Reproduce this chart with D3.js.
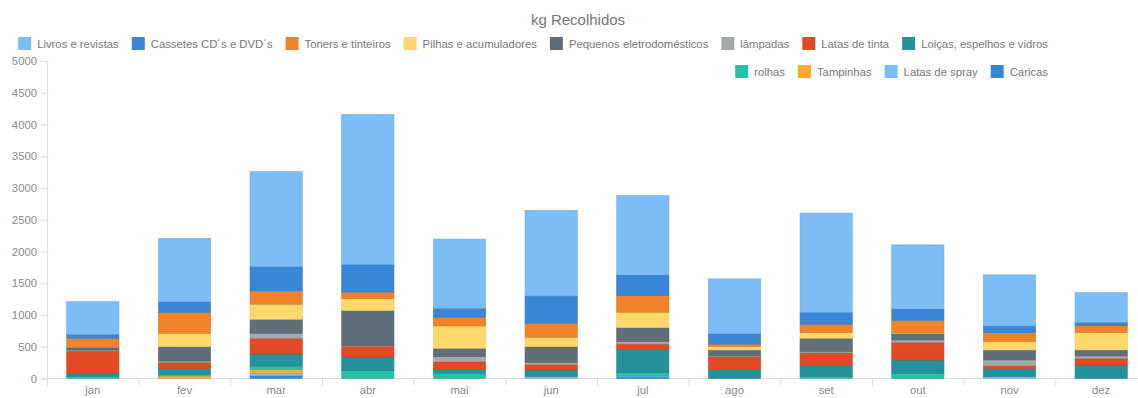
<!DOCTYPE html>
<html>
<head>
<meta charset="utf-8">
<script src="https://cdn.jsdelivr.net/npm/d3@7"></script>
<style>
  body { margin: 0; background: #fff; }
  svg { display: block; font-family: "Liberation Sans", Arial, sans-serif; }
  .axis path, .axis line { stroke: #dcdcdc; }
  .axis text { fill: #8a8a8a; font-size: 11.3px; }
  .legend text { fill: #777; font-size: 11.3px; }
</style>
</head>
<body>
<svg id="chart" width="1138" height="398"></svg>
<script>
// months (categories)
const months = ["jan", "fev", "mar", "abr", "mai", "jun", "jul", "ago", "set", "out", "nov", "dez"];

// kg per month, one array per material
const livros      = [514, 1000, 1494, 2360, 1088, 1345, 1251, 862, 1561, 1009, 804, 467];
const cassetes    = [63, 167, 383, 436, 142, 431, 326, 165, 189, 178, 106, 53];
const toners      = [148, 331, 210, 105, 137, 220, 262, 38, 133, 196, 142, 111];
const pilhas      = [0, 211, 237, 185, 352, 149, 243, 55, 88, 9, 131, 273];
const pequenos    = [37, 225, 220, 557, 132, 246, 221, 94, 211, 106, 157, 94];
const lampadas    = [15, 21, 79, 5, 79, 31, 36, 11, 16, 36, 90, 36];
const latasTinta  = [352, 94, 248, 170, 120, 90, 84, 199, 199, 279, 41, 106];
const loicas      = [54, 95, 189, 216, 63, 106, 369, 145, 180, 210, 133, 213];
const rolhas      = [28, 25, 52, 123, 82, 0, 52, 0, 28, 82, 0, 0];
const tampinhas   = [0, 40, 63, 0, 0, 0, 0, 0, 0, 0, 0, 0];
const latasSpray  = [0, 0, 38, 0, 0, 28, 15, 0, 0, 0, 28, 0];
const caricas     = [0, 0, 44, 0, 0, 0, 24, 0, 0, 0, 0, 0];

const seriesNames = ["Livros e revistas", "Cassetes CD´s e DVD´s", "Toners e tinteiros", "Pilhas e acumuladores",
  "Pequenos eletrodomésticos", "lâmpadas", "Latas de tinta", "Loiças, espelhos e vidros",
  "rolhas", "Tampinhas", "Latas de spray", "Caricas"];
const seriesValues = [livros, cassetes, toners, pilhas, pequenos, lampadas, latasTinta, loicas,
  rolhas, tampinhas, latasSpray, caricas];
const seriesColors = ["#7dbdf5", "#3a86d6", "#f0822a", "#fdd86a", "#5f6e79", "#a4aaab", "#e24a26", "#25919a",
  "#26c2a5", "#fbaa2c", "#7dbdf5", "#3a86d6"];

const yTicks = [0, 500, 1000, 1500, 2000, 2500, 3000, 3500, 4000, 4500, 5000];

// build rows for d3.stack
let table = months.map(function (m, i) {
    let row = { month: m };
    seriesNames.forEach(function (s, j) { row[s] = seriesValues[j][i]; });
    return row;
});

// last legend entry sits at the bottom of each column
let stackKeys = seriesNames.slice().reverse();
let stacked = d3.stack().keys(stackKeys)(table);

let svg = d3.select("#chart");
let plotLeft = 47, plotRight = 1147, plotTop = 61, plotBottom = 378.5;

let x = d3.scaleBand().domain(months).range([plotLeft, plotRight]).paddingInner(0.43).paddingOuter(0.215);
let xEdges = d3.scaleLinear().domain([0, months.length]).range([plotLeft, plotRight]);
let y = d3.scaleLinear().domain([0, 5000]).range([plotBottom, plotTop]);
let color = d3.scaleOrdinal().domain(seriesNames).range(seriesColors);

// title
svg.append("text")
    .attr("x", 578)
    .attr("y", 25)
    .attr("text-anchor", "middle")
    .style("font-size", "15px")
    .style("fill", "#777")
    .text("kg Recolhidos");

// y axis
svg.append("g")
    .attr("class", "axis")
    .attr("transform", "translate(" + plotLeft + ",0)")
    .call(d3.axisLeft(y).tickValues(yTicks).tickFormat(d3.format("d")).tickSize(6).tickPadding(4));

// x axis: tick marks between categories, labels at the centre
svg.append("g")
    .attr("class", "axis")
    .attr("transform", "translate(0," + plotBottom + ")")
    .call(d3.axisBottom(xEdges).ticks(months.length).tickSize(7).tickFormat(""))
    .select(".domain").remove();

let xLabels = svg.append("g")
    .attr("class", "axis")
    .attr("transform", "translate(0," + plotBottom + ")")
    .call(d3.axisBottom(x).tickSize(0).tickPadding(7));
xLabels.select(".domain").attr("d", "M" + plotLeft + ",0H" + plotRight);

// bars
svg.append("g").selectAll("g")
    .data(stacked)
    .enter()
    .append("g")
    .attr("fill", function (d) { return color(d.key); })
    .attr("stroke", function (d) { return d3.color(color(d.key)).darker(0.25); })
    .attr("stroke-width", 0.6)
    .selectAll("rect")
    .data(function (d) { return d.filter(function (p) { return p[1] > p[0]; }); })
    .enter()
    .append("rect")
    .attr("x", function (d) { return x(d.data.month); })
    .attr("width", x.bandwidth())
    .attr("y", function (d) { return y(d[1]); })
    .attr("height", function (d) { return y(d[0]) - y(d[1]); });

// legend: two rows, right aligned
let legendRows = [seriesNames.slice(0, 8), seriesNames.slice(8)];
let legend = svg.append("g").attr("class", "legend");
let box = 13, boxGap = 6, itemGap = 13, rightEdge = 1048;

legendRows.forEach(function (row, r) {
    let cy = 44 + r * 28;
    let items = row.map(function (name) {
        let g = legend.append("g");
        g.append("rect")
            .attr("width", box)
            .attr("height", box)
            .attr("y", cy - 7)
            .attr("fill", color(name));
        let t = g.append("text")
            .attr("x", box + boxGap)
            .attr("y", cy + 4)
            .text(name);
        return { g: g, w: box + boxGap + t.node().getComputedTextLength() };
    });
    let total = d3.sum(items, function (d) { return d.w; }) + itemGap * (items.length - 1);
    let pos = rightEdge - total;
    items.forEach(function (it) {
        it.g.attr("transform", "translate(" + pos + ",0)");
        pos += it.w + itemGap;
    });
});
</script>
</body>
</html>
